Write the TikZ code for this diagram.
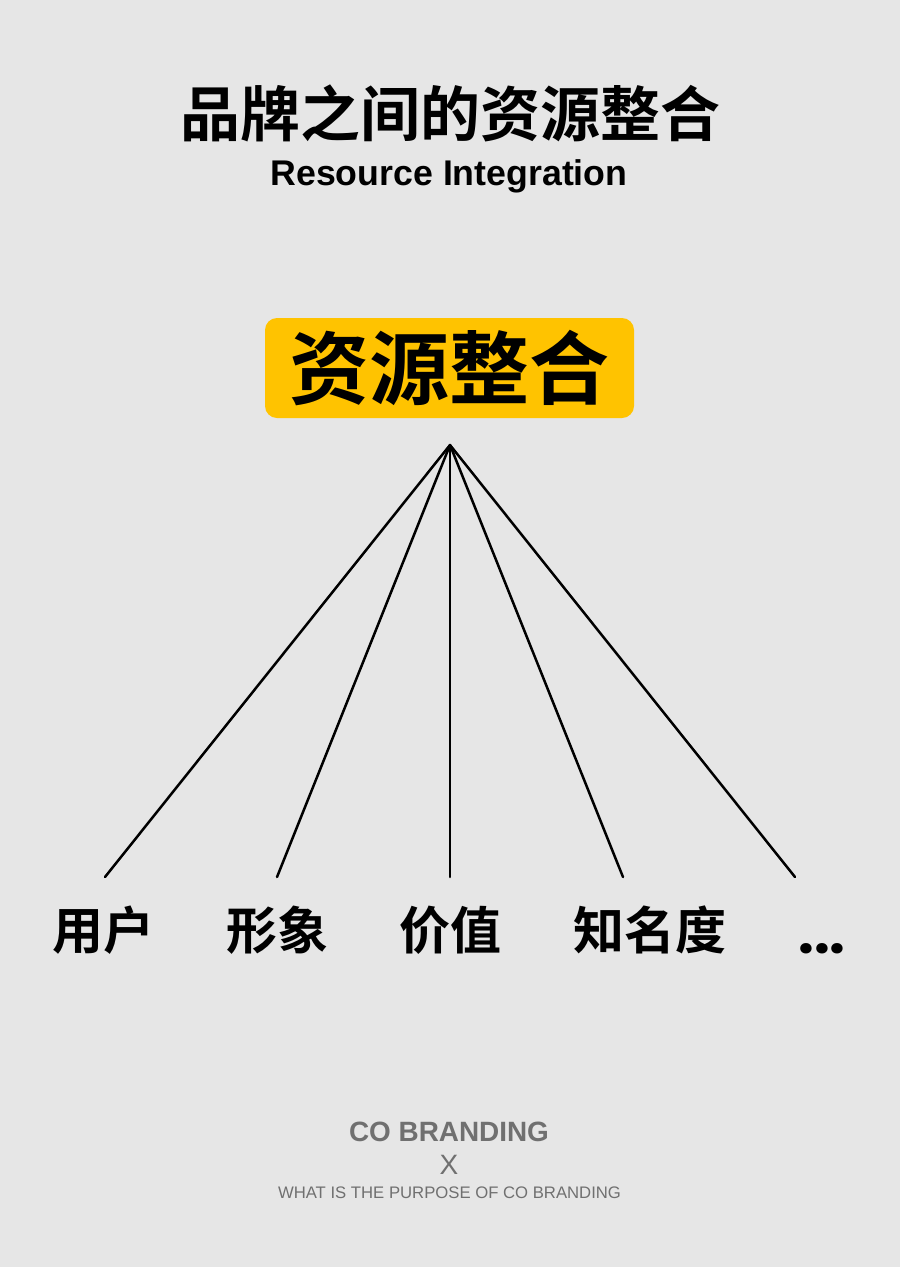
\documentclass[tikz,border=0pt]{standalone}
\usepackage{fontspec}
\setmainfont{Liberation Sans}
\newfontfamily\cjk{Noto Sans CJK SC}[BoldFont={Noto Sans CJK SC Bold}]
\newfontfamily\dotfont{Poppins}
\definecolor{bg}{HTML}{E6E6E6}
\definecolor{gold}{HTML}{FFC300}
\definecolor{foot}{HTML}{707070}
\tikzset{
  cjktext/.style={font=\cjk\bfseries, inner sep=0pt, text=black},
  leaf/.style={cjktext, font=\cjk\bfseries\fontsize{51}{51}\selectfont},
  branch/.style={line width=2.5pt, black},
}
\begin{document}
\begin{tikzpicture}[x=1pt,y=-1pt]
\fill[bg] (0,0) rectangle (900,1267);
\useasboundingbox (0,0) rectangle (900,1267);
\node[cjktext, font=\cjk\bfseries\fontsize{60}{60}\selectfont] (title) at (450,113) {品牌之间的资源整合};
\node[inner sep=0pt, font=\bfseries\fontsize{35.7}{36}\selectfont] (sub) at (449,176) {Resource Integration};
\node[fill=gold, rounded corners=12pt, minimum width=369pt, minimum height=100pt, inner sep=0pt] (box) at (449.5,368) {};
\node[cjktext, font=\cjk\bfseries\fontsize{80}{80}\selectfont] (boxtext) at (449.5,368) {资源整合};
\coordinate (apex) at (450,445);
\coordinate (e1) at (105,877);
\coordinate (e2) at (277,877);
\coordinate (e3) at (450,877);
\coordinate (e4) at (623,877);
\coordinate (e5) at (795,877);
\foreach \i in {1,...,5} \draw[branch, line cap=round] (apex) -- (e\i);
\node[leaf] (l1) at (103.5,930) {用户};
\node[leaf] (l2) at (277,930) {形象};
\node[leaf] (l3) at (450.5,930) {价值};
\node[leaf] (l4) at (649.5,930) {知名度};
\node[inner sep=0pt, anchor=base, font=\dotfont\bfseries\fontsize{56}{56}\selectfont] (l5) at (822,953) {...};
\node[inner sep=0pt, text=foot, font=\bfseries\fontsize{27.9}{28}\selectfont] (f1) at (449,1132) {CO BRANDING};
\node[inner sep=0pt, text=foot, font=\fontsize{28}{28}\selectfont] (f2) at (449,1165) {X};
\node[inner sep=0pt, text=foot, font=\fontsize{16.7}{17}\selectfont] (f3) at (449.5,1193) {WHAT IS THE PURPOSE OF CO BRANDING};
\end{tikzpicture}
\end{document}
